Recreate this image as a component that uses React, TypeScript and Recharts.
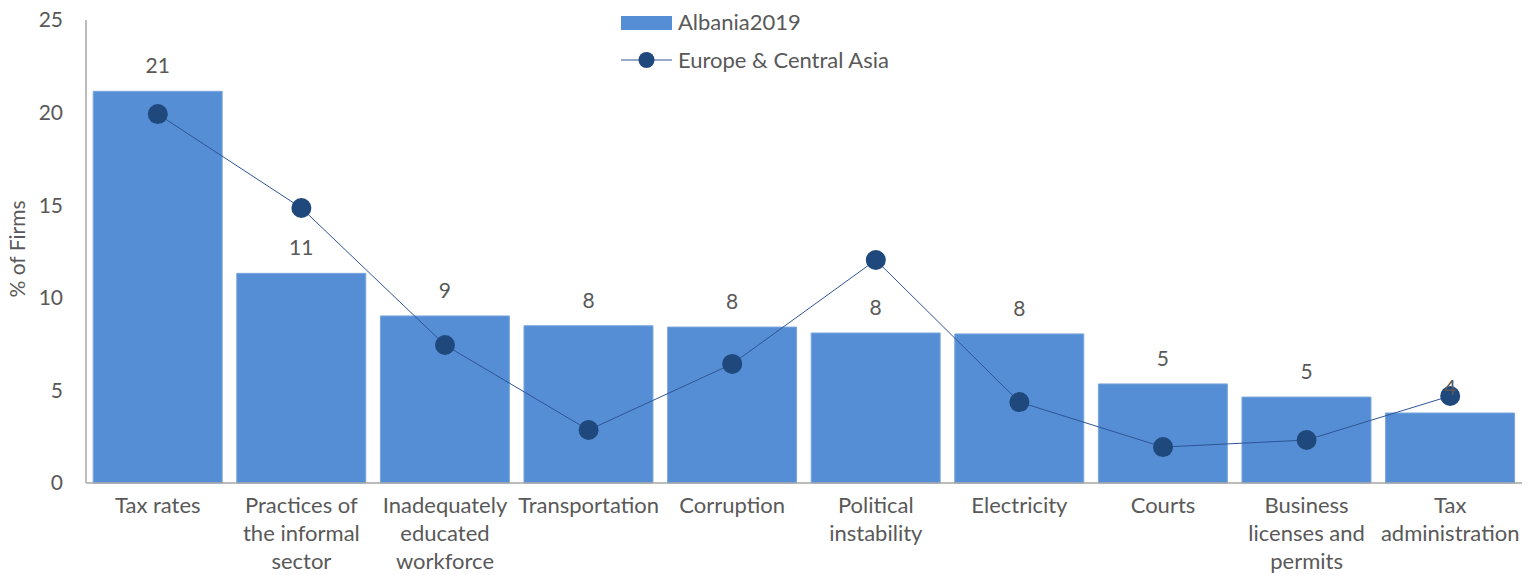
import { Bar, ComposedChart, LabelList, Legend, Line, XAxis, YAxis } from 'recharts'

const categories = [
  'Tax rates',
  'Practices of\nthe informal\nsector',
  'Inadequately\neducated\nworkforce',
  'Transportation',
  'Corruption',
  'Political\ninstability',
  'Electricity',
  'Courts',
  'Business\nlicenses and\npermits',
  'Tax\nadministration',
]
const albania2019 = [21.15, 11.32, 9.02, 8.49, 8.42, 8.1, 8.05, 5.35, 4.64, 3.78]
const europeCentralAsia = [19.92, 14.85, 7.45, 2.86, 6.43, 12.04, 4.37, 1.94, 2.32, 4.7]
const yTicks = [0, 5, 10, 15, 20, 25]

const BAR_COLOR = '#558ed5'
const LINE_COLOR = '#2f5597'
const DOT_COLOR = '#1f497d'
const TEXT_COLOR = '#595959'
const FONT = 'Lato, "Open Sans", sans-serif'

const data = categories.map((name, i) => ({
  name,
  albania: albania2019[i],
  eca: europeCentralAsia[i],
}))

function CategoryTick({ x, y, payload }: any) {
  const lines = String(payload.value).split('\n')
  return (
    <text x={x} y={y + 28} textAnchor="middle" fill={TEXT_COLOR} fontSize={22} fontFamily={FONT}>
      {lines.map((line, i) => (
        <tspan key={i} x={x} dy={i === 0 ? 0 : 28}>
          {line}
        </tspan>
      ))}
    </text>
  )
}

function renderLegend() {
  return (
    <svg width={340} height={80} style={{ display: 'block' }}>
      <rect x={0} y={8} width={51} height={14} fill={BAR_COLOR} />
      <text x={57} y={22} fill={TEXT_COLOR} fontSize={22} fontFamily={FONT}>
        Albania2019
      </text>
      <line x1={0} x2={51} y1={52} y2={52} stroke={LINE_COLOR} strokeWidth={1} />
      <circle cx={25.5} cy={52} r={8} fill={DOT_COLOR} />
      <text x={57} y={60} fill={TEXT_COLOR} fontSize={22} fontFamily={FONT}>
        Europe &amp; Central Asia
      </text>
    </svg>
  )
}

function YTitle() {
  return (
    <text
      x={25}
      y={249}
      transform="rotate(-90 25 249)"
      textAnchor="middle"
      fill={TEXT_COLOR}
      fontSize={21}
      fontFamily={FONT}
    >
      % of Firms
    </text>
  )
}

export default function App() {
  return (
    <div style={{ position: 'absolute', left: 0, top: 0, width: 1536, height: 575, background: '#fff' }}>
      <ComposedChart
        width={1536}
        height={575}
        data={data}
        margin={{ top: 20, right: 14, left: 0, bottom: 0 }}
        barCategoryGap="5%"
      >
        <XAxis
          dataKey="name"
          interval={0}
          height={92}
          tickLine={false}
          tickSize={0}
          axisLine={{ stroke: '#a6a6a6', strokeWidth: 1.5 }}
          tick={<CategoryTick />}
        />
        <YAxis
          width={86}
          domain={[0, 25]}
          ticks={yTicks}
          tickLine={false}
          tickSize={0}
          tickMargin={23}
          axisLine={{ stroke: '#a6a6a6', strokeWidth: 1.5 }}
          tick={{ fill: TEXT_COLOR, fontSize: 21, fontFamily: FONT }}
          label={{ content: () => <YTitle /> }}
        />
        <Legend
          layout="vertical"
          align="center"
          verticalAlign="middle"
          content={renderLegend}
          wrapperStyle={{ top: 8, left: 621, width: 340, height: 80 }}
        />
        <Bar dataKey="albania" fill={BAR_COLOR} stroke="#7aa6de" strokeWidth={1} isAnimationActive={false}>
          <LabelList
            dataKey="albania"
            position="top"
            offset={18}
            formatter={(v: any) => Math.round(Number(v))}
            fill={TEXT_COLOR}
            fontSize={21}
            fontFamily={FONT}
          />
        </Bar>
        <Line
          dataKey="eca"
          stroke={LINE_COLOR}
          strokeWidth={1}
          dot={{ r: 10, fill: DOT_COLOR, stroke: DOT_COLOR, strokeWidth: 0 }}
          activeDot={false}
          isAnimationActive={false}
        />
      </ComposedChart>
    </div>
  )
}
